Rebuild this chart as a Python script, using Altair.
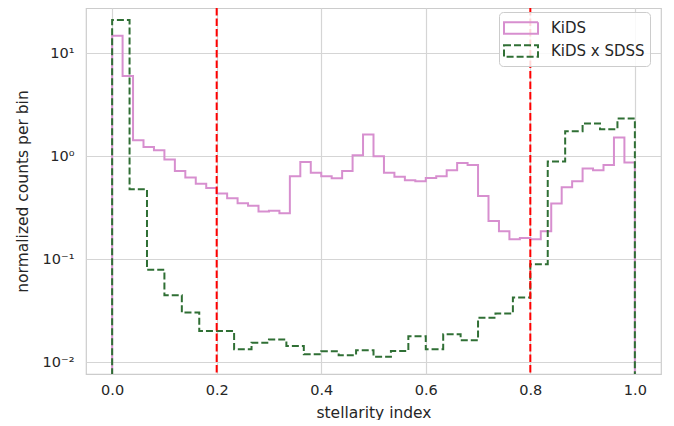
import altair as alt
import pandas as pd

# ---- data ----
kids_vals = [14.7, 6.0, 1.43, 1.23, 1.14, 0.93, 0.72, 0.62, 0.54, 0.49,
             0.435, 0.39, 0.35, 0.33, 0.29, 0.295, 0.28, 0.64, 0.88, 0.69,
             0.64, 0.61, 0.72, 1.02, 1.62, 1.0, 0.69, 0.63, 0.585, 0.57,
             0.615, 0.64, 0.73, 0.86, 0.82, 0.41, 0.235, 0.187, 0.156, 0.161,
             0.156, 0.187, 0.347, 0.5, 0.57, 0.76, 0.73, 0.82, 1.52, 0.87]
sdss_vals = [20.9, 0.478, 0.079, 0.0447, 0.0304, 0.0201, 0.0201, 0.0134, 0.0155, 0.0166,
             0.0144, 0.012, 0.0128, 0.0117, 0.0131, 0.0113, 0.0129, 0.0179, 0.0134, 0.0187,
             0.0164, 0.027, 0.0297, 0.0425, 0.0894, 0.89, 1.75, 2.08, 1.83, 2.32]
series_names = ["KiDS", "KiDS x SDSS"]
thresholds = [0.2, 0.8]
x_ticks = [0.0, 0.2, 0.4, 0.6, 0.8, 1.0]
y_ticks = [0.01, 0.1, 1, 10]

FLOOR = 1e-3  # histogram outline drops to the axis bottom


def step_rows(vals, name):
    n = len(vals)
    rows = [{"x": 0.0, "y": FLOOR, "series": name}]
    for i, v in enumerate(vals):
        rows.append({"x": i / n, "y": v, "series": name})
    rows.append({"x": 1.0, "y": vals[-1], "series": name})
    rows.append({"x": 1.0, "y": FLOOR, "series": name})
    return rows


rows = step_rows(kids_vals, series_names[0]) + step_rows(sdss_vals, series_names[1])
df = pd.DataFrame(rows)
df["idx"] = range(len(df))

thr_df = pd.DataFrame({"x": thresholds})

PINK = "#d78fcf"
GREEN = "#2f6f34"

xscale = alt.Scale(domain=[-0.05, 1.05], nice=False, zero=False)
yscale = alt.Scale(type="log", domain=[0.0077, 27.4], nice=False)

label_expr = ("datum.value >= 5 ? '10\u00b9' : datum.value >= 0.5 ? '10\u2070' : "
              "datum.value >= 0.05 ? '10\u207b\u00b9' : '10\u207b\u00b2'")

lines = alt.Chart(df).mark_line(interpolate="step-after", strokeWidth=2, clip=True).encode(
    x=alt.X("x:Q", scale=xscale,
            axis=alt.Axis(values=x_ticks, format=".1f", title="stellarity index",
                          titleX=287.5, titleY=38, titleBaseline="middle",
                          titleAlign="center")),
    y=alt.Y("y:Q", scale=yscale,
            axis=alt.Axis(values=y_ticks, labelExpr=label_expr,
                          title="normalized counts per bin",
                          titleX=-64, titleY=183, titleAngle=270,
                          titleAlign="center", titleBaseline="middle")),
    color=alt.Color("series:N", title=None,
                    scale=alt.Scale(domain=series_names, range=[PINK, GREEN]),
                    legend=alt.Legend(orient="none", legendX=413, legendY=4,
                                      symbolType="M-1.7,-0.58H1.7V0.58H-1.7Z",
                                      symbolSize=400, symbolStrokeWidth=2,
                                      symbolFillColor="transparent",
                                      symbolOffset=6, labelOffset=19,
                                      labelFontSize=15, labelColor="#262626",
                                      padding=5, rowPadding=2,
                                      fillColor="rgba(255,255,255,0.85)",
                                      strokeColor="#cccccc", cornerRadius=4)),
    strokeDash=alt.StrokeDash("series:N", title=None,
                              scale=alt.Scale(domain=series_names, range=[[1, 0], [7, 3]])),
    order=alt.Order("idx:Q"),
)

rules = alt.Chart(thr_df).mark_rule(color="#ff0000", strokeWidth=2, strokeDash=[7.5, 3]).encode(
    x=alt.X("x:Q", scale=xscale)
)

chart = alt.layer(lines, rules).properties(
    width=575, height=366,
    autosize=alt.AutoSizeParams(type="none"),
    padding={"left": 78, "top": 0, "right": 5, "bottom": 46},
    background="white",
).configure_view(
    stroke="#cccccc", strokeWidth=1.2
).configure_axis(
    domain=False, ticks=False, grid=True, gridColor="#d5d5d5", gridWidth=1.2,
    labelFont="DejaVu Sans", titleFont="DejaVu Sans",
    labelFontSize=14.5, titleFontSize=15.5, titleFontWeight="normal",
    labelColor="#262626", titleColor="#262626",
).configure_axisX(
    labelPadding=9
).configure_axisY(
    labelPadding=12
).configure_legend(
    labelFont="DejaVu Sans"
)

chart.save("out.html", embed_options={"renderer": "svg", "actions": False})
